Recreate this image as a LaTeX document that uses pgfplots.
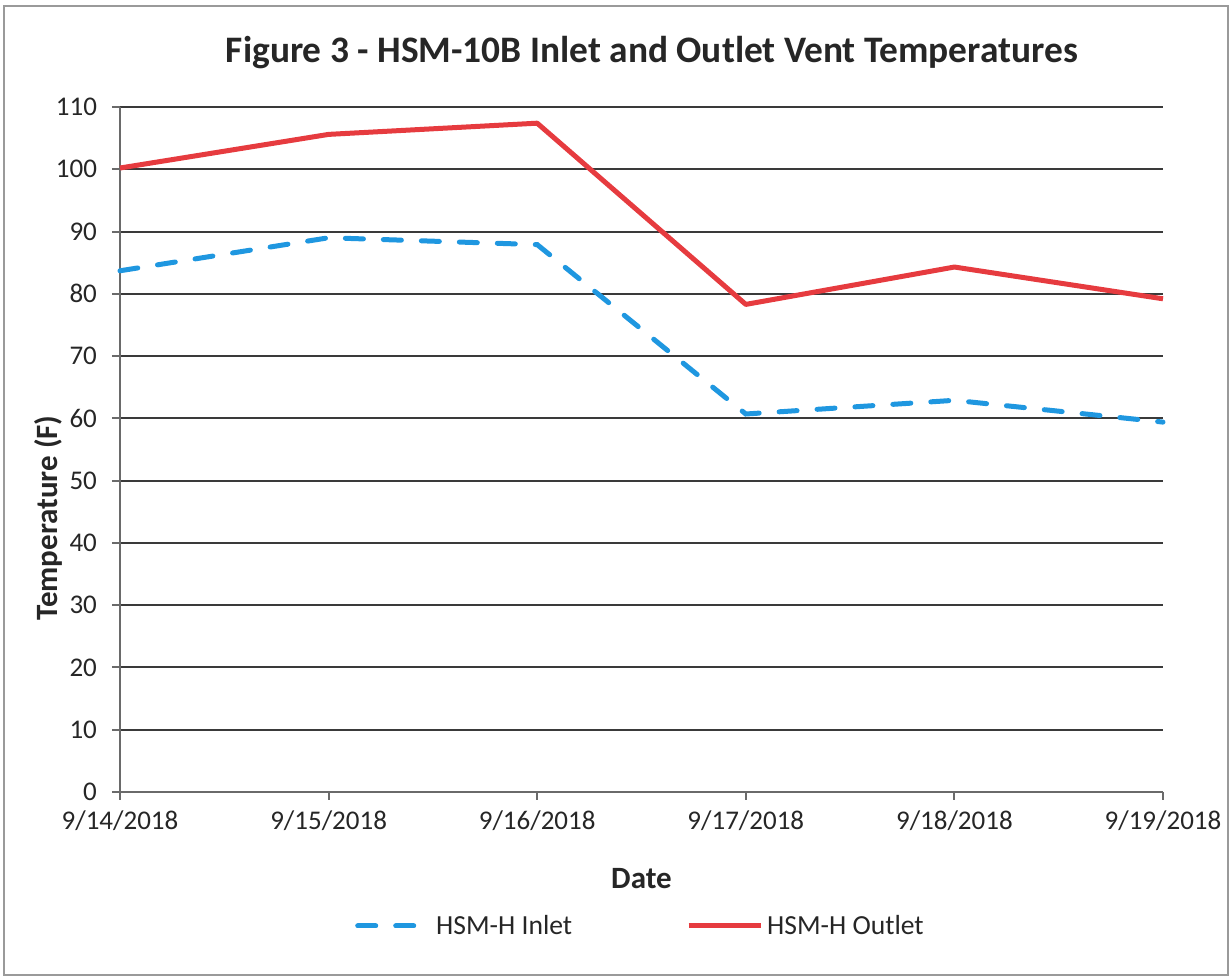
\documentclass[border=0pt]{standalone}
\usepackage{fontspec}
\setmainfont{Carlito}
\usepackage{pgfplots}
\pgfplotsset{compat=1.18}
\definecolor{outletred}{HTML}{E63B3F}
\definecolor{inletblue}{HTML}{1F97E0}
\definecolor{gridc}{HTML}{3A3A3A}
\definecolor{axc}{HTML}{6A6A6A}
\definecolor{framec}{HTML}{9A9A9A}
\begin{document}
\begin{tikzpicture}
\begin{axis}[
  scale only axis, width=521.5pt, height=342.5pt,
  clip=false,
  xmin=0, xmax=5, ymin=0, ymax=110,
  xtick={0,1,2,3,4,5},
  xticklabels={9/14/2018,9/15/2018,9/16/2018,9/17/2018,9/18/2018,9/19/2018},
  ytick={0,10,...,110},
  axis x line=bottom, axis y line=left,
  axis line style={axc, line width=1pt, -},
  ymajorgrids, grid style={gridc, line width=1pt},
  tick align=outside, major tick length=4pt,
  tick style={axc, line width=1pt},
  /pgf/number format/assume math mode=true,
  ticklabel style={font=\fontsize{13.5}{16}\selectfont, text=black!85},
  xticklabel style={yshift=-2pt},
  yticklabel style={xshift=-4pt},
  xlabel={\textbf{Date}},
  xlabel style={at={(axis description cs:0.5,-0.127)}, anchor=center, font=\fontsize{15.5}{18}\selectfont, text=black!85},
  ylabel={\textbf{Temperature (F)}},
  ylabel style={at={(axis description cs:-0.069,0.40)}, anchor=center, rotate=0, font=\fontsize{15.5}{18}\selectfont, text=black!85},
  legend columns=2,
  legend style={at={(axis description cs:0.5,-0.1956)}, anchor=center, draw=none, fill=none,
    font=\fontsize{13.8}{16}\selectfont, text=black!85,
    /tikz/every even column/.append style={column sep=55pt}},
  legend image code/.code={\draw[#1] (0cm,0cm) -- (36pt,0cm);},
]
\addplot[inletblue, line width=2.5pt, line cap=round, dash pattern=on 9pt off 10pt] coordinates {
  (0,83.7) (1,89.0) (2,87.9) (3,60.7) (4,62.9) (5,59.4)
};
\addlegendentry{HSM-H Inlet}
\addplot[outletred, line width=2.5pt, line join=round] coordinates {
  (0,100.2) (1,105.6) (2,107.4) (3,78.3) (4,84.3) (5,79.2)
};
\addlegendentry{HSM-H Outlet}
\node[font=\fontsize{18.7}{22}\selectfont\bfseries, text=black!85] at (axis description cs:0.51,1.080) {Figure 3 - HSM-10B Inlet and Outlet Vent Temperatures};
\path (axis description cs:-0.11505,-0.27299) rectangle (axis description cs:1.06616,1.15620);
\draw[framec, line width=0.8pt] (axis description cs:-0.1112,-0.2672) rectangle (axis description cs:1.0623,1.1474);
\end{axis}
\end{tikzpicture}
\end{document}
